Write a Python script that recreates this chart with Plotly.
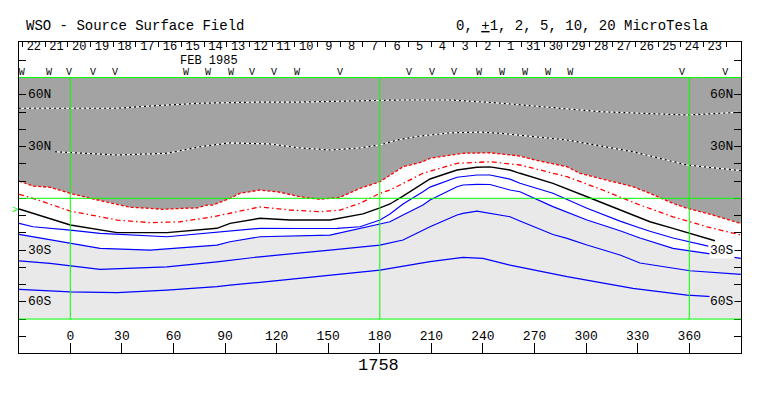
import numpy as np
import plotly.graph_objects as go

# ---------------- data ----------------
X_TICKS = [0, 30, 60, 90, 120, 150, 180, 210, 240, 270, 300, 330, 360]
X_TICK_LABELS = [str(v) for v in X_TICKS]
LAT_GRID = [-80, -70, -60, -50, -40, -30, -20, -10, 0, 10, 20, 30, 40, 50, 60, 70, 80]
LAT_LABEL_VALUES = [60, 30, -30, -60]
LAT_LABELS = ["60N", "30N", "30S", "60S"]

DAY_LABELS = ["22", "21", "20", "19", "18", "17", "16", "15", "14", "13", "12", "11", "10", "9", "8", "7",
              "6", "5", "4", "3", "2", "1", "31", "30", "29", "28", "27", "26", "25", "24", "23"]
DAY_LON = [-21.2, -8.0, 5.2, 18.4, 31.6, 44.8, 58.0, 71.2, 84.4, 97.6, 110.8, 124.0, 137.2, 150.4, 163.6,
           176.8, 190.0, 203.2, 216.4, 229.6, 242.8, 256.0, 269.2, 282.4, 295.6, 308.8, 322.0, 335.2,
           348.4, 361.6, 374.8]
DAY_SEP_LON = [-27.8, -14.6, -1.4, 11.8, 25.0, 38.2, 51.4, 64.6, 77.8, 91.0, 104.2, 117.4, 130.6, 143.8,
               157.0, 170.2, 183.4, 196.6, 209.8, 223.0, 236.2, 249.4, 262.6, 275.8, 289.0, 302.2, 315.4,
               328.6, 341.8, 355.0, 368.2, 381.4]

SECTOR_LON = [-28.3, -12.4, -0.8, 13.2, 26.0, 67.3, 80.1, 93.5, 105.7, 118.5, 131.8, 156.9, 197.0, 210.4,
              223.2, 237.7, 251.1, 264.5, 277.9, 290.7, 355.8, 380.9]
SECTOR_SYM = ["W", "W", "V", "V", "V", "W", "W", "W", "V", "V", "W", "V", "V", "V", "V", "W", "W", "W",
              "W", "W", "V", "V"]

# contour lines (longitude, latitude)
A_LON = [-29.8, 27.2, 46.4, 75.4, 110.3, 133.6, 162.7, 191.8, 220.8, 249.9, 308.1, 358.7, 390.0]
A_LAT = [52.2, 52.2, 53.5, 55.1, 55.8, 55.8, 56.4, 57.0, 57.0, 55.2, 50.2, 48.3, 49.9]

B_LON = [-8.9, 27.2, 56.2, 75.4, 92.9, 110.3, 116.1, 133.6, 151.0, 168.5, 180.1, 190.0, 203.4, 220.8,
         238.3, 249.9, 288.9, 327.2, 358.7, 390.0]
B_LAT = [27.0, 25.1, 26.1, 29.9, 32.1, 31.9, 31.5, 29.2, 28.0, 29.2, 30.9, 33.8, 36.1, 37.9, 38.4, 37.7,
         33.8, 27.0, 19.3, 16.0]

C_LON = [-29.8, -21.7, -11.8, 0.0, 11.5, 27.2, 34.7, 46.4, 53.9, 65.5, 73.7, 79.5, 83.0, 92.9, 98.7,
         110.3, 122.0, 133.6, 145.2, 156.9, 168.5, 174.3, 180.1, 193.5, 205.1, 209.2, 224.9, 228.4,
         244.1, 255.7, 261.5, 270.2, 288.9, 296.4, 319.7, 327.2, 337.1, 350.5, 358.7, 370.3, 390.0]
C_LAT = [10.0, 7.1, 6.4, 2.9, 0.0, -3.3, -5.2, -5.8, -6.4, -5.8, -5.6, -3.9, -3.9, 0.0, 2.9, 4.8, 3.5,
         0.9, -0.6, 0.6, 5.8, 7.7, 9.6, 18.3, 21.2, 23.2, 25.7, 26.1, 26.4, 25.1, 24.5, 22.2, 18.3, 14.5,
         8.7, 6.7, 2.9, -2.9, -5.8, -8.7, -14.6]

D_LON = [-29.8, -21.7, 0.0, 27.2, 46.4, 63.8, 83.0, 92.9, 110.3, 127.8, 145.2, 156.9, 168.5, 180.1,
         185.9, 205.1, 224.9, 244.1, 261.5, 288.9, 308.1, 331.3, 350.5, 370.3, 390.0]
D_LAT = [2.3, 0.0, -7.4, -12.6, -14.1, -13.6, -10.7, -8.7, -5.0, -6.8, -7.8, -6.8, -2.9, 2.9, 4.8, 14.5,
         20.3, 21.2, 19.3, 12.5, 5.4, -3.9, -10.7, -16.5, -21.3]

E_LON = [-29.8, -21.7, 0.0, 27.2, 56.2, 85.3, 92.9, 110.3, 127.8, 151.0, 170.2, 180.1, 185.9, 193.5,
         205.1, 209.2, 224.9, 236.5, 244.1, 255.7, 261.5, 280.7, 300.5, 319.7, 331.3, 337.1, 350.5,
         370.3, 374.9]
E_LAT = [-6.2, -8.7, -15.5, -19.9, -19.9, -17.4, -14.5, -11.6, -12.6, -12.6, -9.0, -5.6, -3.3, 1.3, 8.3,
         11.2, 16.4, 18.0, 18.2, 16.4, 14.5, 8.7, 0.9, -6.8, -11.6, -13.6, -17.4, -23.2, -24.6]

F_LON = [-29.8, -21.7, 0.0, 17.3, 56.2, 85.3, 110.3, 133.6, 155.1, 168.5, 180.1, 185.9, 193.5, 205.1,
         209.2, 224.9, 236.5, 244.1, 255.7, 261.5, 280.7, 300.5, 319.7, 331.3, 337.1, 350.5, 360.4, 371.0]
F_LAT = [-14.5, -16.5, -18.4, -20.3, -22.3, -19.9, -17.4, -17.5, -17.4, -16.5, -12.6, -9.1, -3.3, 3.8,
         6.5, 12.2, 13.5, 13.5, 11.1, 8.7, 2.9, -5.8, -13.2, -17.2, -19.1, -23.0, -25.3, -27.7]

G_LON = [-29.8, -21.7, 0.0, 17.3, 46.4, 85.3, 92.9, 110.3, 151.0, 178.4, 185.9, 193.5, 205.1, 209.2,
         224.9, 228.4, 236.5, 244.1, 255.7, 261.5, 280.7, 300.5, 319.7, 331.3, 337.1, 350.5, 370.3, 390.0]
G_LAT = [-20.9, -22.3, -26.1, -29.0, -30.0, -27.1, -25.2, -22.3, -21.3, -15.5, -13.6, -9.7, -3.9, -1.0,
         6.7, 7.7, 8.1, 8.0, 4.8, 3.8, -4.8, -12.6, -18.8, -23.0, -24.8, -29.0, -31.9, -34.8]

H_LON = [-29.8, -11.8, 17.3, 36.5, 56.2, 85.3, 92.9, 110.3, 151.0, 180.1, 193.5, 205.1, 209.2, 224.9,
         228.4, 236.5, 255.7, 261.5, 280.7, 288.9, 300.5, 319.7, 331.3, 360.4, 390.0]
H_LAT = [-36.3, -37.7, -41.2, -40.6, -39.7, -36.8, -35.8, -33.9, -30.0, -27.1, -24.2, -18.4, -16.5, -9.7,
         -8.7, -7.4, -10.7, -13.2, -21.0, -23.2, -27.1, -32.9, -37.5, -42.0, -44.1]

I_LON = [-29.8, 0.0, 27.2, 56.2, 85.3, 92.9, 110.3, 151.0, 180.1, 209.2, 228.4, 240.0, 249.9, 255.7,
         288.9, 327.2, 358.7, 373.2]
I_LAT = [-52.8, -54.3, -54.7, -53.2, -51.2, -50.3, -48.7, -44.5, -41.6, -36.7, -34.2, -34.8, -37.2,
         -38.7, -45.4, -52.2, -56.1, -57.0]

# ---------------- styling ----------------
X_RANGE = [-29.84, 390.07]
Y_RANGE = [-89.68, 90.61]
DATA_TOP, DATA_BOT = 70, -70
DARK = "#a3a3a3"
LIGHT = "#e9e9e9"
GREEN = "#00ff00"
MONO = "Liberation Mono"

fig = go.Figure()

# dark shaded region above outer red contour
fig.add_trace(go.Scatter(x=[X_RANGE[0], X_RANGE[1]], y=[DATA_TOP, DATA_TOP], mode="lines",
                         line=dict(width=0), hoverinfo="skip", showlegend=False))
fig.add_trace(go.Scatter(x=C_LON, y=C_LAT, mode="none", fill="tonexty", fillcolor=DARK,
                         hoverinfo="skip", showlegend=False))

# light shaded region below min(G contour, equator)
gx = np.linspace(X_RANGE[0], X_RANGE[1], 900)
gy = np.minimum(np.interp(gx, G_LON, G_LAT), 0.0)
fig.add_trace(go.Scatter(x=[X_RANGE[0], X_RANGE[1]], y=[DATA_BOT, DATA_BOT], mode="lines",
                         line=dict(width=0), hoverinfo="skip", showlegend=False))
fig.add_trace(go.Scatter(x=gx, y=gy, mode="none", fill="tonexty", fillcolor=LIGHT,
                         hoverinfo="skip", showlegend=False))


def line(x, y, color, width, dash="solid"):
    fig.add_trace(go.Scatter(x=x, y=y, mode="lines", line=dict(color=color, width=width, dash=dash),
                             hoverinfo="skip", showlegend=False))


for lx, ly in [(A_LON, A_LAT), (B_LON, B_LAT)]:
    line(lx, ly, "white", 1.2)
    line(lx, ly, "black", 1.2, "2px,3px")

line(C_LON, C_LAT, "red", 1.3, "3px,2px")
line(D_LON, D_LAT, "red", 1.3, "5px,3px,1.5px,3px")
line(E_LON, E_LAT, "black", 1.4)
for lx, ly in [(F_LON, F_LAT), (G_LON, G_LAT), (H_LON, H_LAT), (I_LON, I_LAT)]:
    line(lx, ly, "blue", 1.2)

# sector polarity markers
fig.add_trace(go.Scatter(x=SECTOR_LON, y=[73.0] * len(SECTOR_LON), mode="text", text=SECTOR_SYM,
                         textfont=dict(family=MONO, size=10, color="black"), hoverinfo="skip",
                         showlegend=False))
# day numbers (top axis)
fig.add_trace(go.Scatter(x=DAY_LON, y=[87.6] * len(DAY_LON), mode="text", text=DAY_LABELS, xaxis="x2",
                         textfont=dict(family=MONO, size=12, color="black"), hoverinfo="skip",
                         showlegend=False))
# longitude labels (bottom box)
fig.add_trace(go.Scatter(x=X_TICKS, y=[-80.4] * len(X_TICKS), mode="text", text=X_TICK_LABELS,
                         textfont=dict(family=MONO, size=13, color="black"), hoverinfo="skip",
                         showlegend=False))

# green reference lines
shapes = []
for v in [0, 180, 360]:
    shapes.append(dict(type="line", xref="x", yref="y", x0=v, x1=v, y0=DATA_BOT, y1=DATA_TOP,
                       line=dict(color=GREEN, width=1)))
for h in [DATA_TOP, 0, DATA_BOT]:
    shapes.append(dict(type="line", xref="paper", yref="y", x0=0, x1=1, y0=h, y1=h,
                       line=dict(color=GREEN, width=1)))

annotations = []
bg_left = {60: DARK, 30: DARK, -30: LIGHT, -60: LIGHT}
bg_right = {60: DARK, 30: DARK, -30: "white", -60: LIGHT}
for v, t in zip(LAT_LABEL_VALUES, LAT_LABELS):
    annotations.append(dict(x=-17.9, y=v, xref="x", yref="y", text=t, showarrow=False,
                            font=dict(family=MONO, size=13, color="black"), bgcolor=bg_left[v],
                            borderpad=0, xanchor="center", yanchor="middle"))
    annotations.append(dict(x=378.8, y=v, xref="x", yref="y", text=t, showarrow=False,
                            font=dict(family=MONO, size=13, color="black"), bgcolor=bg_right[v],
                            borderpad=0, xanchor="center", yanchor="middle"))

# paper coordinates: plot area spans 311 px vertically, 722 px horizontally
annotations += [
    dict(x=-26.9, y=1.0514, xref="x", yref="paper", text="WSO - Source Surface Field", showarrow=False,
         font=dict(family=MONO, size=14, color="black"), xanchor="left", yanchor="middle"),
    dict(x=372.0, y=1.0514, xref="x", yref="paper", text="0, <u>+</u>1, 2, 5, 10, 20 MicroTesla",
         showarrow=False, font=dict(family=MONO, size=14, color="black"), xanchor="right",
         yanchor="middle"),
    dict(x=80.8, y=79.4, xref="x", yref="y", text="FEB 1985", showarrow=False,
         font=dict(family=MONO, size=12, color="black"), xanchor="center", yanchor="middle"),
    dict(x=179.0, y=-0.0418, xref="x", yref="paper", text="1758", showarrow=False,
         font=dict(family=MONO, size=17, color="black"), xanchor="center", yanchor="middle"),
    dict(x=-0.0055, y=-7.1, xref="paper", yref="y", text=">", showarrow=False,
         font=dict(family=MONO, size=10, color=GREEN), xanchor="center", yanchor="middle"),
]

# the page body has an 8 px margin; size the figure so the plot box lands at x 19-741, y 42-353
fig.update_layout(
    width=747, height=380,
    margin=dict(l=11, r=14, t=34, b=35, pad=0),
    paper_bgcolor="white", plot_bgcolor="white",
    showlegend=False,
    shapes=shapes, annotations=annotations,
    xaxis=dict(range=X_RANGE, tickvals=X_TICKS, ticks="inside", ticklen=10, tickcolor="black",
               tickwidth=1, showticklabels=False, showgrid=False, zeroline=False, showline=True,
               linecolor="black", linewidth=1, mirror=True, fixedrange=True),
    xaxis2=dict(range=X_RANGE, overlaying="x", side="top", anchor="y", tickvals=DAY_SEP_LON,
                ticks="inside", ticklen=5, tickcolor="black", tickwidth=1, showticklabels=False,
                showgrid=False, zeroline=False, showline=False, fixedrange=True),
    yaxis=dict(range=Y_RANGE, tickvals=LAT_GRID, ticks="inside", ticklen=7, tickcolor="black",
               tickwidth=1, showticklabels=False, showgrid=False, zeroline=False, showline=True,
               linecolor="black", linewidth=1, mirror="ticks", fixedrange=True),
)

fig.write_html("out.html")
